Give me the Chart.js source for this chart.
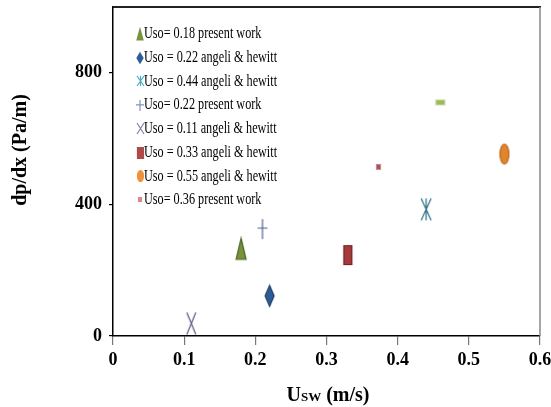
<!DOCTYPE html>
<html>
<head>
<meta charset="utf-8">
<script src="https://cdn.jsdelivr.net/npm/chart.js@4.4.0/dist/chart.umd.min.js"></script>
<style>
    html, body { margin: 0; padding: 0; background: #fff; }
</style>
</head>
<body>
<canvas id="chart" width="551" height="407"></canvas>
<script>
// 데이터
const seriesLabels = [
    'Uso= 0.18 present work',
    'Uso = 0.22 angeli & hewitt',
    'Uso = 0.44 angeli & hewitt',
    'Uso= 0.22 present work',
    'Uso = 0.11 angeli & hewitt',
    'Uso = 0.33 angeli & hewitt',
    'Uso = 0.55 angeli & hewitt',
    'Uso= 0.36 present work',
    'Uso= 0.46 present work'
];
const seriesX = [0.18, 0.22, 0.44, 0.21, 0.11, 0.33, 0.55, 0.373, 0.46];
const seriesY = [265, 122, 385, 325, 38, 246, 553, 514, 710];
const shownInLegend = [true, true, true, true, true, true, true, true, false];
const xTicks = [0, 0.1, 0.2, 0.3, 0.4, 0.5, 0.6];
const yTicks = [0, 400, 800];

// 마커 스타일 (종류, 폭, 높이, 채움, 테두리)
const markerStyles = [
    ['triangle', 10, 21, '#77933C', '#4F6228'],
    ['diamond', 9, 21, '#2C5D97', '#1F3F66'],
    ['asterisk', 10, 22, null, '#2F6F86'],
    ['plus', 10, 20, null, '#4F628E'],
    ['x', 9, 22, null, '#5E5882'],
    ['rect', 9, 20, '#A33B3A', '#7A1F1E'],
    ['ellipse', 10, 21, '#E0852E', '#C0661A'],
    ['rect', 5, 6, '#9E5258', '#C88A8E'],
    ['rect', 10, 6, '#9BBB59', '#C8D8A8']
];
const legendStyles = [
    ['triangle', 6, 11, '#77933C', '#77933C'],
    ['diamond', 6, 10, '#2C5D97', '#2C5D97'],
    ['asterisk', 7, 10, null, '#4BACC6'],
    ['plus', 8, 11, null, '#7F95BF'],
    ['x', 7, 11, null, '#8B7FA8'],
    ['rect', 7, 12, '#B04A48', '#B04A48'],
    ['ellipse', 7, 12, '#F0913A', '#F0913A'],
    ['rect', 4, 5, '#D88A8F', '#D88A8F'],
    ['rect', 7, 5, '#9BBB59', '#9BBB59']
];

function makeMarker(kind, w, h, fill, stroke) {
    const pad = 2;
    const c = document.createElement('canvas');
    c.width = w + pad * 2;
    c.height = h + pad * 2;
    const g = c.getContext('2d');
    g.translate(pad, pad);
    g.fillStyle = fill || 'transparent';
    g.strokeStyle = stroke;
    g.lineWidth = 1.2;
    g.beginPath();
    if (kind === 'triangle') {
        g.moveTo(w / 2, 0); g.lineTo(w, h); g.lineTo(0, h); g.closePath();
        g.fill(); g.stroke();
    } else if (kind === 'diamond') {
        g.moveTo(w / 2, 0); g.lineTo(w, h / 2); g.lineTo(w / 2, h); g.lineTo(0, h / 2); g.closePath();
        g.fill(); g.stroke();
    } else if (kind === 'rect') {
        g.rect(0.5, 0.5, w - 1, h - 1);
        g.fill(); g.stroke();
    } else if (kind === 'ellipse') {
        g.ellipse(w / 2, h / 2, w / 2 - 0.5, h / 2 - 0.5, 0, 0, Math.PI * 2);
        g.fill(); g.stroke();
    } else if (kind === 'plus') {
        g.moveTo(w / 2, 0); g.lineTo(w / 2, h);
        g.moveTo(0, h * 0.45); g.lineTo(w, h * 0.45);
        g.stroke();
    } else if (kind === 'x') {
        g.moveTo(0, 0); g.lineTo(w, h);
        g.moveTo(w, 0); g.lineTo(0, h);
        g.stroke();
    } else if (kind === 'asterisk') {
        g.moveTo(0, 0); g.lineTo(w, h);
        g.moveTo(w, 0); g.lineTo(0, h);
        g.moveTo(w / 2, 0); g.lineTo(w / 2, h);
        g.stroke();
    }
    return c;
}

const chartMarkers = markerStyles.map(s => makeMarker(...s));
const legendMarkers = legendStyles.map(s => makeMarker(...s));

const serif = '"Liberation Serif", "Times New Roman", serif';

/**
 * 범례, 축 제목, 테두리 그리기
 */
const decorPlugin = {
    id: 'decor',
    afterDraw(chart) {
        const ctx = chart.ctx;
        const area = chart.chartArea;
        ctx.save();

        // 위/오른쪽 테두리
        ctx.strokeStyle = '#222';
        ctx.lineWidth = 2;
        ctx.beginPath();
        ctx.moveTo(area.left, area.top);
        ctx.lineTo(area.right + 1, area.top);
        ctx.stroke();
        ctx.strokeStyle = '#888';
        ctx.lineWidth = 1.5;
        ctx.beginPath();
        ctx.moveTo(area.right, area.top);
        ctx.lineTo(area.right, area.bottom);
        ctx.stroke();

        // 범례
        ctx.fillStyle = '#000';
        ctx.textBaseline = 'middle';
        ctx.textAlign = 'left';
        ctx.font = '16.5px ' + serif;
        let row = 0;
        chart.data.datasets.forEach((ds, i) => {
            if (!shownInLegend[i]) return;
            const y = 34 + row * 23.7;
            const icon = legendMarkers[i];
            ctx.drawImage(icon, Math.round(140 - icon.width / 2), Math.round(y - icon.height / 2));
            ctx.save();
            ctx.translate(144, y);
            ctx.scale(0.74, 1);
            ctx.fillText(ds.label, 0, 0);
            ctx.restore();
            row++;
        });

        // y축 제목
        ctx.save();
        ctx.translate(21, 150);
        ctx.rotate(-Math.PI / 2);
        ctx.textAlign = 'center';
        ctx.font = 'bold 20px ' + serif;
        ctx.fillText('dp/dx (Pa/m)', 0, 0);
        ctx.restore();

        // x축 제목 (U 아래첨자 SW)
        ctx.textBaseline = 'alphabetic';
        const big = 'bold 20px ' + serif;
        const small = 'bold 13px ' + serif;
        ctx.font = big;
        const wU = ctx.measureText('U').width;
        const wRest = ctx.measureText(' (m/s)').width;
        ctx.font = small;
        const wSub = ctx.measureText('SW').width;
        let x = 328 - (wU + wSub + wRest) / 2;
        const base = 401;
        ctx.font = big;
        ctx.fillText('U', x, base);
        x += wU;
        ctx.font = small;
        ctx.fillText('SW', x, base);
        x += wSub;
        ctx.font = big;
        ctx.fillText(' (m/s)', x, base);

        ctx.restore();
    }
};

const datasets = seriesLabels.map((label, i) => ({
    label,
    data: [{ x: seriesX[i], y: seriesY[i] }],
    pointStyle: chartMarkers[i],
    pointRadius: 6,
    showLine: false
}));

new Chart(document.getElementById('chart'), {
    type: 'scatter',
    data: { datasets },
    options: {
        responsive: false,
        animation: false,
        devicePixelRatio: 1,
        layout: { padding: { top: 6, right: 11, left: 0, bottom: 0 } },
        plugins: {
            legend: { display: false },
            tooltip: { enabled: false }
        },
        scales: {
            x: {
                type: 'linear',
                min: 0,
                max: 0.6,
                afterBuildTicks: scale => { scale.ticks = xTicks.map(v => ({ value: v })); },
                afterFit: scale => {
                    scale.height = 71;
                    scale.paddingLeft = 0;
                    scale.paddingRight = 0;
                },
                grid: { drawOnChartArea: false, tickLength: 9, color: '#777', lineWidth: 1.2 },
                border: { display: true, color: '#000', width: 1.5 },
                ticks: {
                    padding: 5,
                    color: '#000',
                    font: { family: serif, size: 18, weight: 'bold' },
                    callback: v => v === 0 ? '0' : v.toFixed(1)
                }
            },
            y: {
                min: 0,
                max: 1000,
                afterBuildTicks: scale => { scale.ticks = yTicks.map(v => ({ value: v })); },
                afterFit: scale => {
                    scale.width = 113;
                    scale.paddingTop = 0;
                    scale.paddingBottom = 0;
                },
                grid: { drawOnChartArea: false, tickLength: 4, color: '#000', lineWidth: 1.2 },
                border: { display: true, color: '#000', width: 1.5 },
                ticks: {
                    padding: 7,
                    color: '#000',
                    font: { family: serif, size: 18, weight: 'bold' }
                }
            }
        }
    },
    plugins: [decorPlugin]
});
</script>
</body>
</html>
